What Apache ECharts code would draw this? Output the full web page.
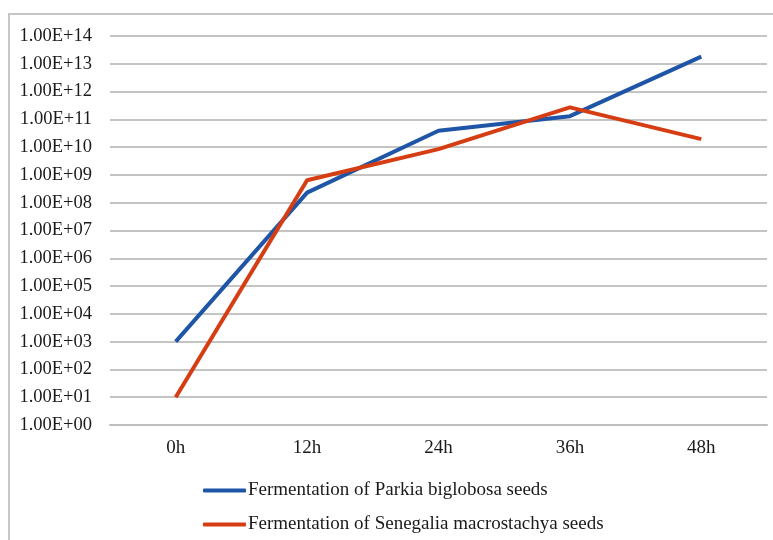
<!DOCTYPE html>
<html>
<head>
<meta charset="utf-8">
<script src="https://cdn.jsdelivr.net/npm/echarts@6/dist/echarts.min.js"></script>
<style>
  html, body { margin: 0; padding: 0; background: #fff; }
  #chart { width: 773px; height: 540px; }
</style>
</head>
<body>
<div id="chart"></div>
<script>
// Sampling times during fermentation
const categories = ['0h', '12h', '24h', '36h', '48h'];

// Microbial counts per time point
const parkiaName = 'Fermentation of Parkia biglobosa seeds';
const parkiaValues = [1.0e3, 2.3e8, 3.9e10, 1.3e11, 1.8e13];

const senegaliaName = 'Fermentation of Senegalia macrostachya seeds';
const senegaliaValues = [1.0e1, 6.4e8, 8.5e9, 2.7e11, 1.95e10];

const yMin = 1;
const yMax = 1e14;

const serif = '"Liberation Serif", "DejaVu Serif", serif';

function sciLabel(v) {
  const exp = Math.round(Math.log10(v));
  return '1.00E+' + (exp < 10 ? '0' + exp : String(exp));
}

const chart = echarts.init(document.getElementById('chart'), null, { renderer: 'canvas' });

chart.setOption({
  backgroundColor: '#ffffff',
  animation: false,
  graphic: [{
    type: 'rect',
    shape: { x: 9, y: 14, width: 790, height: 560 },
    style: { fill: 'none', stroke: '#c6c6c6', lineWidth: 2 },
    silent: true,
    z: -1
  }],
  grid: { left: 110, right: 6, top: 36, bottom: 115, containLabel: false },
  xAxis: {
    type: 'category',
    data: categories,
    boundaryGap: true,
    axisLine: { show: true, lineStyle: { color: '#bdbdbd', width: 2 } },
    axisTick: { show: false },
    axisLabel: { color: '#1a1a1a', fontFamily: serif, fontSize: 19, margin: 14 },
    splitLine: { show: false }
  },
  yAxis: {
    type: 'log',
    logBase: 10,
    min: yMin,
    max: yMax,
    interval: 1,
    axisLine: { show: false },
    axisTick: { show: false },
    axisLabel: {
      color: '#1a1a1a', fontFamily: serif, fontSize: 18.5, margin: 18,
      formatter: sciLabel
    },
    splitLine: { show: true, lineStyle: { color: '#c4c4c4', width: 2 } }
  },
  legend: {
    orient: 'vertical',
    left: 198,
    top: 476,
    itemWidth: 43,
    itemHeight: 4,
    itemGap: 15,
    icon: 'roundRect',
    textStyle: { color: '#1a1a1a', fontFamily: serif, fontSize: 19, padding: [0, 0, 0, -3] },
    data: [parkiaName, senegaliaName]
  },
  series: [
    {
      name: parkiaName,
      type: 'line',
      data: parkiaValues,
      symbol: 'none',
      lineStyle: { color: '#1e55a6', width: 4 },
      itemStyle: { color: '#1e55a6' },
      z: 2
    },
    {
      name: senegaliaName,
      type: 'line',
      data: senegaliaValues,
      symbol: 'none',
      lineStyle: { color: '#d63d12', width: 4 },
      itemStyle: { color: '#d63d12' },
      z: 3
    }
  ]
});
</script>
</body>
</html>
